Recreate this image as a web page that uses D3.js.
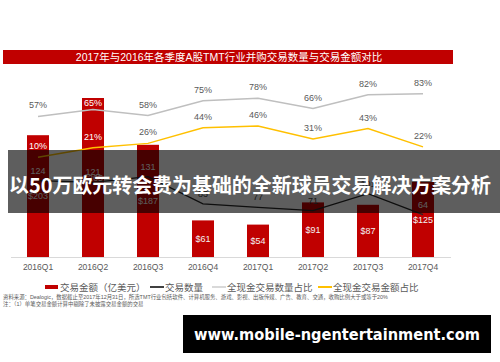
<!DOCTYPE html>
<html lang="zh">
<head>
  <meta charset="UTF-8">
  <title>2017年与2016年各季度A股TMT行业并购交易数量与交易金额对比</title>
  <script src="https://d3js.org/d3.v7.min.js"></script>
  <style>
    body { margin: 0; background: #fff; }
    svg { display: block; font-family: "Liberation Sans", Arial, "Noto Sans CJK SC", sans-serif; }
  </style>
</head>
<body>
<div id="chart"></div>
<script>
  const quarters = ["2016Q1", "2016Q2", "2016Q3", "2016Q4", "2017Q1", "2017Q2", "2017Q3", "2017Q4"];
  const amount = [203, 265, 187, 61, 54, 91, 87, 125];          // 交易金额（亿美元）
  const count = [124, 121, 131, 83, 77, 71, 101, 64];            // 交易数量
  const cashCountShare = [57, 65, 58, 75, 78, 66, 82, 83];       // 全现金交易数量占比
  const cashAmountShare = [10, 21, 26, 44, 46, 31, 43, 22];      // 全现金交易金额占比
  const legendItems = ["交易金额（亿美元）", "交易数量", "全现金交易数量占比", "全现金交易金额占比"];

  const W = 500, H = 362;
  const red = "#c00000", grey = "#bfbfbf", gold = "#ffc000", dark = "#262626";

  const svg = d3.select("#chart").append("svg").attr("width", W).attr("height", H);

  // 标题栏
  svg.append("rect").attr("x", 3).attr("y", 50).attr("width", 450).attr("height", 14).attr("fill", red);
  svg.append("text").attr("x", 229).attr("y", 61).attr("text-anchor", "middle")
    .attr("fill", "#fff").style("font-size", "10.5px")
    .text("2017年与2016年各季度A股TMT行业并购交易数量与交易金额对比");

  const x = d3.scaleBand().domain(quarters).range([10.5, 450.5]).paddingInner(0.6).paddingOuter(0.3);
  const yAmt = d3.scaleLinear().domain([0, 300]).range([257, 77]);
  const yCnt = d3.scaleLinear().domain([0, 400]).range([251, 24]);
  const yPct = d3.scaleLinear().domain([0, 100]).range([166, 79]);
  const cx = q => x(q) + x.bandwidth() / 2;

  const rows = quarters.map((q, i) => ({
    q, amt: amount[i], cnt: count[i], cc: cashCountShare[i], ca: cashAmountShare[i]
  }));

  // x轴
  const xAxis = svg.append("g").attr("transform", "translate(0,257)")
    .call(d3.axisBottom(x).tickSize(0).tickPadding(7));
  xAxis.select(".domain").attr("stroke", "#d9d9d9");
  xAxis.selectAll("text").attr("fill", "#595959").style("font-size", "8.5px")
    .style("font-family", "'Liberation Sans', Arial, sans-serif");

  // 柱
  svg.selectAll(".bar").data(rows).join("rect")
    .attr("x", d => x(d.q)).attr("width", x.bandwidth())
    .attr("y", d => yAmt(d.amt)).attr("height", d => yAmt(0) - yAmt(d.amt))
    .attr("fill", red);

  svg.selectAll(".amt-label").data(rows).join("text")
    .attr("x", d => cx(d.q)).attr("y", d => (yAmt(d.amt) + yAmt(0)) / 2 + 3)
    .attr("text-anchor", "middle").attr("fill", "#f2f2f2").style("font-size", "9px")
    .text(d => "$" + d.amt);

  const drawLine = (key, scale, color, width) => {
    svg.append("path").datum(rows)
      .attr("fill", "none").attr("stroke", color).attr("stroke-width", width)
      .attr("d", d3.line().x(d => cx(d.q)).y(d => scale(d[key])));
  };
  drawLine("cc", yPct, grey, 1.5);
  drawLine("ca", yPct, gold, 1.5);
  drawLine("cnt", yCnt, dark, 1.3);

  // 标签：若跨越柱顶则推入柱内；完全在柱内用白字
  const labelY = (d, py) => {
    let b = py - 8;
    const top = yAmt(d.amt);
    if (b - 7 < top && b + 1 > top) b = top + 8;
    return b;
  };
  const inBar = (d, b) => b - 7 > yAmt(d.amt);

  ["cc", "ca"].forEach(key => {
    svg.selectAll(".lbl-" + key).data(rows).join("text")
      .attr("x", d => cx(d.q)).attr("y", d => labelY(d, yPct(d[key])))
      .attr("text-anchor", "middle").style("font-size", "9px")
      .attr("fill", d => inBar(d, labelY(d, yPct(d[key]))) ? "#fff" : "#595959")
      .text(d => d[key] + "%");
  });
  svg.selectAll(".lbl-cnt").data(rows).join("text")
    .attr("x", d => cx(d.q)).attr("y", d => yCnt(d.cnt) - 7)
    .attr("text-anchor", "middle").style("font-size", "9px")
    .attr("fill", d => inBar(d, yCnt(d.cnt) - 7) ? "#fff" : "#404040")
    .text(d => d.cnt);

  // 图例
  const lg = svg.append("g").style("font-size", "9.5px").attr("fill", "#595959");
  const lgX = [45, 150, 212, 318];
  legendItems.forEach((t, i) => {
    if (i === 0) lg.append("rect").attr("x", lgX[i]).attr("y", 285).attr("width", 13).attr("height", 4).attr("fill", red);
    else lg.append("line").attr("x1", lgX[i]).attr("x2", lgX[i] + 14).attr("y1", 287).attr("y2", 287)
      .attr("stroke", [null, "#404040", "#d9d9d9", gold][i]).attr("stroke-width", 2);
    lg.append("text").attr("x", lgX[i] + 15).attr("y", 290.5).text(t);
  });

  const note = svg.append("g").style("font-size", "5.4px").attr("fill", "#595959");
  note.append("text").attr("x", 3).attr("y", 299)
    .text("资料来源：Dealogic，数据截止至2017年12月31日，所选TMT行业包括软件、计算机服务、游戏、影视、出版传媒、广告、教育、交通，收购比例大于或等于20%");
  note.append("text").attr("x", 3).attr("y", 306)
    .text("注：（1）单笔交易金额计算中剔除了未披露交易金额的交易");

  // 覆盖横幅
  svg.append("rect").attr("x", 8).attr("y", 150).attr("width", 492).attr("height", 63)
    .attr("fill", "rgba(0,0,0,0.63)");
  svg.append("text").attr("x", 250).attr("y", 193).attr("text-anchor", "middle")
    .attr("fill", "#fff").style("font-size", "20px").style("font-weight", "bold")
    .style("font-family", "'Noto Sans CJK SC', sans-serif")
    .attr("textLength", 482).attr("lengthAdjust", "spacingAndGlyphs")
    .text("以50万欧元转会费为基础的全新球员交易解决方案分析");

  // 网址
  svg.append("rect").attr("x", 183).attr("y", 315).attr("width", 308).attr("height", 38).attr("fill", "#000");
  svg.append("text").attr("x", 337).attr("y", 340).attr("text-anchor", "middle")
    .attr("fill", "#fff").style("font-size", "15.4px").style("font-weight", "bold")
    .style("font-family", "'DejaVu Sans', sans-serif")
    .attr("textLength", 286).attr("lengthAdjust", "spacingAndGlyphs")
    .text("www.mobile-ngentertainment.com");
</script>
</body>
</html>
